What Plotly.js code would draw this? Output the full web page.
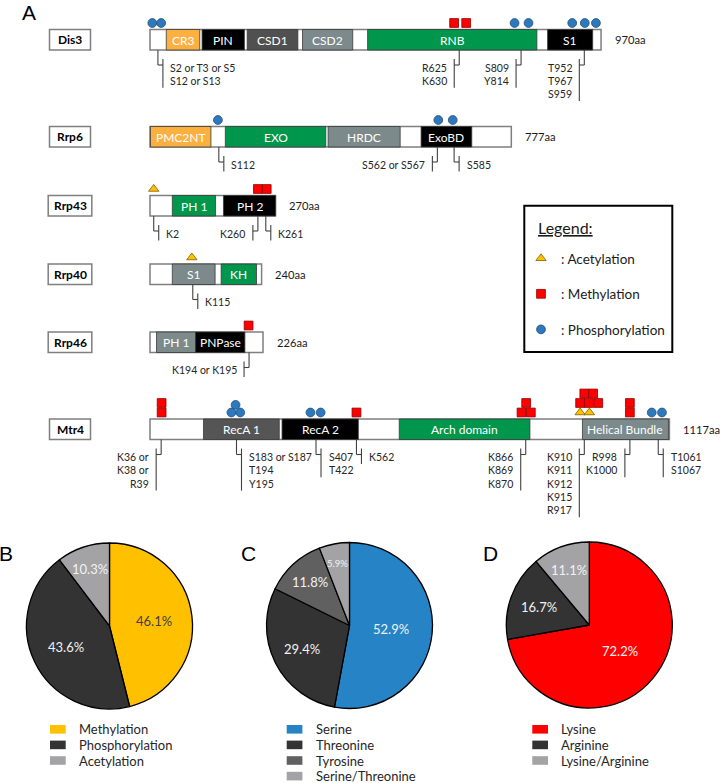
<!DOCTYPE html>
<html><head><meta charset="utf-8">
<script src="https://cdn.plot.ly/plotly-3.0.1.min.js"></script>
<style>html,body{margin:0;padding:0;background:#fff}</style>
</head><body><div id="chart" style="width:720px;height:783px"></div>
<script>
// ================= DATA =================
const proteins = ['Dis3', 'Rrp6', 'Rrp43', 'Rrp40', 'Rrp46', 'Mtr4'];
const proteinLengthLabels = ['970aa', '777aa', '270aa', '240aa', '226aa', '1117aa'];
const proteinDrawnLength = [970, 777, 270, 240, 243, 1117];

const domainProtein = [0, 0, 0, 0, 0, 0, 1, 1, 1, 1, 2, 2, 3, 3, 4, 4, 5, 5, 5, 5];
const domainName = ['CR3', 'PIN', 'CSD1', 'CSD2', 'RNB', 'S1', 'PMC2NT', 'EXO', 'HRDC', 'ExoBD',
  'PH 1', 'PH 2', 'S1', 'KH', 'PH 1', 'PNPase', 'RecA 1', 'RecA 2', 'Arch domain', 'Helical Bundle'];
const domainStart = [35, 112, 209, 328, 468, 855, 1, 162, 383, 583, 48, 158, 48, 153, 14, 98, 115, 284, 536, 930];
const domainEnd = [107, 203, 318, 436, 832, 952, 131, 378, 538, 692, 141, 270, 140, 229, 98, 204, 278, 448, 817, 1115];

// modification sites (protein index, residue position, stack level)
const acetProtein = [2, 3, 5, 5];
const acetSite = [8, 90, 925, 945];
const acetLevel = [0, 0, 0, 0];

const methProtein = [0, 0, 2, 2, 4, 5, 5, 5, 5, 5, 5, 5, 5, 5, 5, 5, 5, 5];
const methSite = [654, 680, 232, 251, 212, 25, 25, 444, 799, 819, 809, 925, 944, 964, 934, 953, 1032, 1032];
const methLevel = [0, 0, 0, 0, 0, 0, 1, 0, 0, 0, 1, 1, 1, 1, 2, 2, 0, 1];

const phosProtein = [0, 0, 0, 0, 0, 0, 0, 1, 1, 1, 5, 5, 5, 5, 5, 5, 5];
const phosSite = [5, 24, 784, 814, 908, 935, 959, 146, 620, 651, 175, 194, 184, 345, 367, 1079, 1101];
const phosLevel = [0, 0, 0, 0, 0, 0, 0, 0, 0, 0, 0, 0, 0.8, 0, 0, 0, 0];

// site callouts
const calloutProtein = [0, 0, 0, 0, 1, 1, 1, 2, 2, 2, 3, 4, 5, 5, 5, 5, 5, 5, 5, 5];
const calloutSite = [17, 665, 798, 934, 148, 618, 654, 8, 232, 249, 92, 213, 24, 186, 357, 444, 808, 934, 1032, 1093];
const calloutSide = ['R', 'L', 'L', 'L', 'R', 'L', 'R', 'R', 'L', 'R', 'R', 'L', 'L', 'R', 'R', 'R', 'L', 'L', 'L', 'R'];
const calloutLabels = [
  ['S2 or T3 or S5', 'S12 or S13'], ['R625', 'K630'], ['S809', 'Y814'], ['T952', 'T967', 'S959'],
  ['S112'], ['S562 or S567'], ['S585'],
  ['K2'], ['K260'], ['K261'],
  ['K115'],
  ['K194 or K195'],
  ['K36 or', 'K38 or', 'R39'], ['S183 or S187', 'T194', 'Y195'], ['S407', 'T422'], ['K562'],
  ['K866', 'K869', 'K870'], ['K910', 'K911', 'K912', 'K915', 'R917'], ['R998', 'K1000'], ['T1061', 'S1067']
];

// pie charts
const pieBLabels = ['Methylation', 'Phosphorylation', 'Acetylation'];
const pieBValues = [46.1, 43.6, 10.3];
const pieCLabels = ['Serine', 'Threonine', 'Tyrosine', 'Serine/Threonine'];
const pieCValues = [52.9, 29.4, 11.8, 5.9];
const pieDLabels = ['Lysine', 'Arginine', 'Lysine/Arginine'];
const pieDValues = [72.2, 16.7, 11.1];

// ================= STYLE / LAYOUT =================
const W = 720, H = 783;
const F = 'Lato, "Open Sans", Arial, sans-serif';
const PX = 0.465, X0 = 150;            // px per residue, px position of residue 0
const a = px => px / PX;               // px offset -> residue units
const rowTop = [29.5, 126.5, 195.5, 264, 332, 419];
const barH = 20.5;
const GREEN = '#00964B', GREYT = '#7C8A8B', ORANGE = '#FBB040';
const domainColorMap = {
  'CR3': ORANGE, 'PMC2NT': ORANGE, 'PIN': '#000000', 'CSD1': '#505050', 'CSD2': GREYT,
  'RNB': GREEN, 'EXO': GREEN, 'HRDC': GREYT, 'ExoBD': '#000000', 'PH 2': '#000000',
  'KH': GREEN, 'PNPase': '#000000', 'RecA 1': '#555555', 'RecA 2': '#000000',
  'Arch domain': GREEN, 'Helical Bundle': GREYT
};
function domColor(i) {
  const n = domainName[i], p = domainProtein[i];
  if (n === 'S1') return p === 0 ? '#000000' : GREYT;
  if (n === 'PH 1') return p === 2 ? GREEN : GREYT;
  return domainColorMap[n];
}
const pieColors = [
  ['#FFC000', '#333333', '#A3A3A6'],
  ['#2683C6', '#333333', '#606060', '#A3A3A6'],
  ['#FF0000', '#333333', '#A3A3A6']
];
const pieTextColors = [
  ['#404040', '#F2F2F2', '#F2F2F2'],
  ['#F2F2F2', '#F2F2F2', '#F2F2F2', '#F2F2F2'],
  ['#F2F2F2', '#F2F2F2', '#F2F2F2']
];
const pieTextSizes = [[13, 13, 13], [13, 13, 13, 9.5], [13, 13, 13]];
const pieLabelR = [[0.54, 0.58, 0.72], [0.50, 0.64, 0.71, 0.76], [0.48, 0.65, 0.71]];
const pieBoxes = [[26.5, 192.5, 543, 709], [266.5, 432.5, 542.5, 708.5], [506.3, 672.3, 542, 708]];
const pieLegendSwatchX = [50, 286.7, 532.3];
const pieLegendTextX = [76.7, 313.7, 559];

const shapes = [];
const annotations = [];
const px2x = px => px / W, py2y = py => 1 - py / H;
function ann(o) {
  annotations.push(Object.assign({showarrow: false, xanchor: 'center', yanchor: 'middle'}, o));
}

// protein bars
proteins.forEach((name, i) => {
  const t = rowTop[i], b = t + barH;
  shapes.push({type: 'rect', xref: 'x', yref: 'y', x0: 0, x1: proteinDrawnLength[i], y0: t, y1: b,
    fillcolor: '#FFFFFF', line: {color: '#7F7F7F', width: 1.5}, layer: 'below'});
  const bw = name.length > 4 ? 43.6 : 41;
  shapes.push({type: 'rect', xref: 'paper', yref: 'y', x0: px2x(70 - bw / 2), x1: px2x(70 + bw / 2), y0: t, y1: b,
    fillcolor: '#FFFFFF', line: {color: '#7F7F7F', width: 1.5}, layer: 'below'});
  ann({xref: 'paper', yref: 'y', x: px2x(70), y: t + barH / 2, text: '<b>' + name + '</b>',
    font: {family: F, size: 12, color: '#000'}});
  ann({xref: 'x', yref: 'y', x: proteinDrawnLength[i] + a(11.5), y: t + barH / 2, xanchor: 'left',
    text: proteinLengthLabels[i], font: {family: F, size: 11.2, color: '#1a1a1a'}});
});
// domains
domainName.forEach((n, i) => {
  const t = rowTop[domainProtein[i]];
  shapes.push({type: 'rect', xref: 'x', yref: 'y', x0: domainStart[i], x1: domainEnd[i], y0: t, y1: t + barH,
    fillcolor: domColor(i), line: {color: '#3A3A3A', width: 0.8}, layer: 'below'});
  ann({xref: 'x', yref: 'y', x: (domainStart[i] + domainEnd[i]) / 2, y: t + barH / 2 + 0.5,
    text: n, font: {family: F, size: 12, color: '#FFFFFF'}});
});
// callouts
const LC = '#404040';
calloutSite.forEach((s, g) => {
  const b = rowTop[calloutProtein[g]] + barH;
  const dir = calloutSide[g] === 'L' ? -1 : 1;
  const longX = s + dir * a(5), textX = longX + dir * a(5.5);
  const lines = calloutLabels[g];
  const firstY = b + 17.5, step = 13.3;
  const lastY = firstY + (lines.length - 1) * step;
  shapes.push({type: 'line', xref: 'x', yref: 'y', x0: s, x1: s, y0: b, y1: b + 15, line: {color: LC, width: 1.1}});
  shapes.push({type: 'line', xref: 'x', yref: 'y', x0: s, x1: longX, y0: b + 15, y1: b + 15, line: {color: LC, width: 1.1}});
  shapes.push({type: 'line', xref: 'x', yref: 'y', x0: longX, x1: longX, y0: b + 9, y1: lastY + 7, line: {color: LC, width: 1.1}});
  lines.forEach((txt, k) => {
    ann({xref: 'x', yref: 'y', x: textX, y: firstY + k * step, xanchor: dir < 0 ? 'right' : 'left',
      text: txt, font: {family: F, size: 10.5, color: '#262626'}});
  });
});
// legend box of panel A
shapes.push({type: 'rect', xref: 'paper', yref: 'paper', x0: px2x(524.3), x1: px2x(672.3), y0: py2y(352), y1: py2y(205.7),
  line: {color: '#000', width: 2}, fillcolor: 'rgba(0,0,0,0)'});
ann({xref: 'paper', yref: 'paper', x: px2x(536), y: py2y(227.7), xanchor: 'left', text: '<u>Legend:</u>',
  font: {family: F, size: 16, color: '#1a1a1a'}});

// marker traces
const markerY = (prot, lvl) => prot.map((p, i) => rowTop[p] - 6.5 - lvl[i] * 9.5);
const traces = [
  {type: 'scatter', mode: 'markers', name: ': Acetylation', legendgroup: 'ac', x: acetSite, y: markerY(acetProtein, acetLevel),
    marker: {symbol: 'triangle-up', size: 9, color: '#FFC000', line: {color: '#7F6000', width: 0.8}}, hoverinfo: 'skip'},
  {type: 'scatter', mode: 'markers', name: ': Methylation', legendgroup: 'me', x: methSite, y: markerY(methProtein, methLevel),
    marker: {symbol: 'square', size: 8.8, color: '#FF0000', line: {color: '#8B0000', width: 0.8}}, hoverinfo: 'skip'},
  {type: 'scatter', mode: 'markers', name: ': Phosphorylation', legendgroup: 'ph', x: phosSite, y: markerY(phosProtein, phosLevel),
    marker: {symbol: 'circle', size: 8.8, color: '#2E78BE', line: {color: '#1F4E79', width: 0.8}}, hoverinfo: 'skip'}
];

// pies
const pieLabelsAll = [pieBLabels, pieCLabels, pieDLabels];
const pieValuesAll = [pieBValues, pieCValues, pieDValues];
pieValuesAll.forEach((vals, k) => {
  const [x0, x1, y0, y1] = pieBoxes[k];
  traces.push({type: 'pie', values: vals, labels: pieLabelsAll[k], sort: false, direction: 'clockwise', rotation: 0,
    textinfo: 'none', hoverinfo: 'skip', showlegend: false,
    marker: {colors: pieColors[k], line: {color: '#000000', width: 1.3}},
    domain: {x: [px2x(x0), px2x(x1)], y: [py2y(y1), py2y(y0)]}});
  const cx = (x0 + x1) / 2, cy = (y0 + y1) / 2, R = Math.min(x1 - x0, y1 - y0) / 2;
  const tot = vals.reduce((s, v) => s + v, 0);
  let cum = 0;
  vals.forEach((v, j) => {
    const th = 2 * Math.PI * (cum + v / 2) / tot;
    cum += v;
    const f = pieLabelR[k][j] * R;
    ann({xref: 'paper', yref: 'paper', x: px2x(cx + f * Math.sin(th)), y: py2y(cy - f * Math.cos(th)),
      text: v.toFixed(1) + '%', font: {family: F, size: pieTextSizes[k][j], color: pieTextColors[k][j]}});
  });
  // legend under pie
  pieLabelsAll[k].forEach((lab, j) => {
    const yc = 729.3 + j * 15.6;
    shapes.push({type: 'rect', xref: 'paper', yref: 'paper', x0: px2x(pieLegendSwatchX[k]), x1: px2x(pieLegendSwatchX[k] + 15.7),
      y0: py2y(yc + 4.3), y1: py2y(yc - 4.3), fillcolor: pieColors[k][j], line: {width: 0}});
    ann({xref: 'paper', yref: 'paper', x: px2x(pieLegendTextX[k]), y: py2y(yc), xanchor: 'left',
      text: lab, font: {family: F, size: 13, color: '#262626'}});
  });
});

// panel letters
[['A', 28.7, 12], ['B', 6, 553], ['C', 248, 553], ['D', 490, 553]].forEach(([t, x, y]) => {
  ann({xref: 'paper', yref: 'paper', x: px2x(x), y: py2y(y), text: t,
    font: {family: '"Liberation Sans", Arial, sans-serif', size: 21, color: '#000'}});
});

const layout = {
  width: W, height: H, margin: {l: 0, r: 0, t: 0, b: 0, pad: 0},
  paper_bgcolor: '#FFFFFF', plot_bgcolor: 'rgba(0,0,0,0)',
  xaxis: {range: [-X0 / PX, (W - X0) / PX], visible: false, fixedrange: true, domain: [0, 1]},
  yaxis: {range: [H, 0], visible: false, fixedrange: true, domain: [0, 1]},
  showlegend: true,
  legend: {x: px2x(521), xanchor: 'left', y: py2y(243), yanchor: 'top', bgcolor: 'rgba(0,0,0,0)', borderwidth: 0,
    font: {family: F, size: 13.5, color: '#1a1a1a'}, tracegroupgap: 15, itemclick: false, itemdoubleclick: false},
  shapes: shapes, annotations: annotations, hovermode: false
};
Plotly.newPlot('chart', traces, layout, {displayModeBar: false, staticPlot: true});
</script></body></html>
